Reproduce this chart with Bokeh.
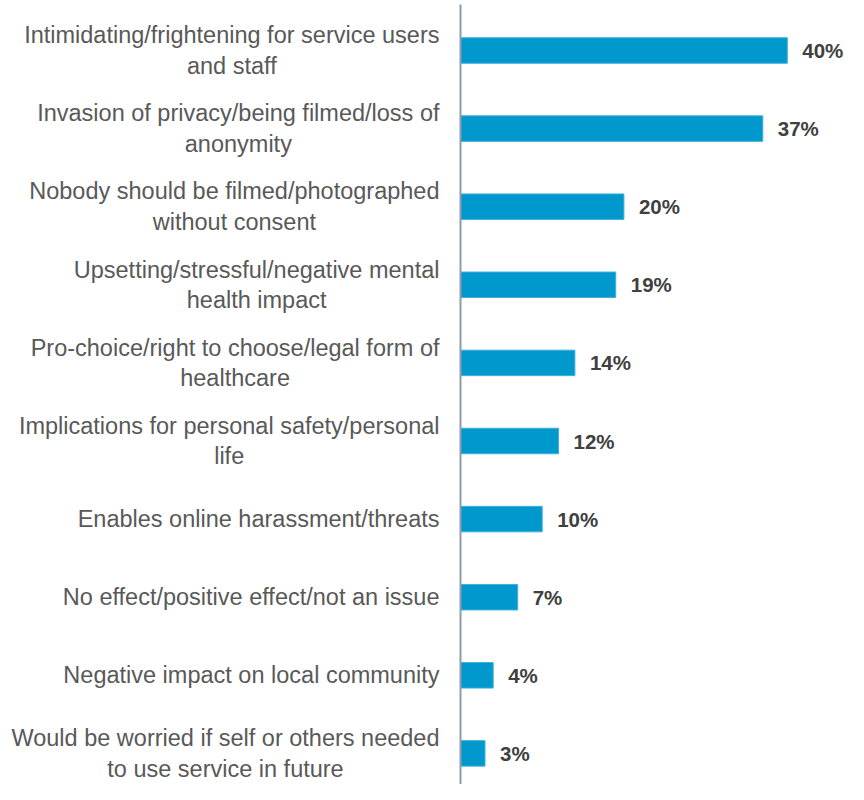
import numpy as np
from bokeh.plotting import figure
from bokeh.models import Range1d, ColumnDataSource
from bokeh.core.properties import value
from bokeh.embed import file_html
from bokeh.resources import INLINE

categories = [
    "Intimidating/frightening for service users\nand staff",
    "Invasion of privacy/being filmed/loss of\nanonymity",
    "Nobody should be filmed/photographed\nwithout consent",
    "Upsetting/stressful/negative mental\nhealth impact",
    "Pro-choice/right to choose/legal form of\nhealthcare",
    "Implications for personal safety/personal\nlife",
    "Enables online harassment/threats",
    "No effect/positive effect/not an issue",
    "Negative impact on local community",
    "Would be worried if self or others needed\nto use service in future",
]
values = [40, 37, 20, 19, 14, 12, 10, 7, 4, 3]
value_labels = ["40%", "37%", "20%", "19%", "14%", "12%", "10%", "7%", "4%", "3%"]

pos = np.arange(len(categories))
src = ColumnDataSource(dict(cat=categories, val=values, lab=value_labels, pos=pos,
                            zero=[0] * len(values)))

W, H = 848, 784
px_per_unit = 8.17
x0_frame = 460
x_range = Range1d(-x0_frame / px_per_unit, (W - x0_frame) / px_per_unit)
row = 78.1
top = -50 / row
y_range = Range1d(top + H / row, top)

p = figure(width=W, height=H, x_range=x_range, y_range=y_range,
           output_backend="svg", toolbar_location=None, min_border=0)
p.outline_line_color = None
p.xaxis.visible = False
p.yaxis.visible = False
p.xgrid.visible = False
p.ygrid.visible = False
p.background_fill_color = "white"
p.border_fill_color = "white"

p.hbar(y="pos", left="zero", right="val", height=25.5 / row, source=src,
       fill_color="#0098CD", line_color="#3FB0DA", line_width=1)

# vertical axis line
p.segment(x0=[0], x1=[0], y0=[top + 4 / row], y1=[top + H / row],
          line_color="#8C9BB0", line_width=2)

p.text(x="zero", y="pos", text="cat", source=src, x_offset=-21,
       anchor=value("center_right"), text_align="center", text_baseline="middle",
       text_font=value("Liberation Sans"), text_font_size="23.5px",
       text_color="#595959", text_line_height=1.17)

p.text(x="val", y="pos", text="lab", source=src, x_offset=15,
       text_align="left", text_baseline="middle",
       text_font=value("Liberation Sans"), text_font_size="20.5px",
       text_font_style="bold", text_color="#404040")

open("out.html", "w").write(file_html(p, INLINE))
